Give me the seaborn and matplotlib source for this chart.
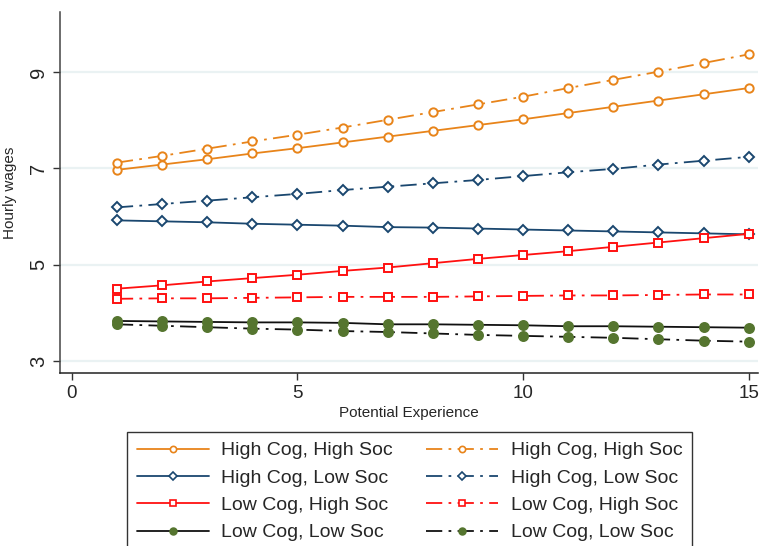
import numpy as np
import pandas as pd
import seaborn as sns
import matplotlib.pyplot as plt
from matplotlib.lines import Line2D

# Potential experience (years)
exper = list(range(1, 16))

# Hourly wages
hc_hs_solid = [6.97, 7.08, 7.19, 7.31, 7.42, 7.54, 7.66, 7.78, 7.90, 8.02, 8.15, 8.28, 8.41, 8.54, 8.67]
hc_ls_solid = [5.92, 5.90, 5.88, 5.85, 5.83, 5.81, 5.78, 5.77, 5.75, 5.73, 5.71, 5.69, 5.67, 5.65, 5.63]
lc_hs_solid = [4.50, 4.57, 4.65, 4.72, 4.79, 4.87, 4.94, 5.03, 5.12, 5.20, 5.28, 5.37, 5.46, 5.55, 5.64]
lc_ls_solid = [3.83, 3.82, 3.81, 3.80, 3.80, 3.79, 3.76, 3.76, 3.75, 3.74, 3.72, 3.72, 3.71, 3.70, 3.69]

hc_hs_dash = [7.12, 7.26, 7.41, 7.56, 7.70, 7.85, 8.01, 8.17, 8.33, 8.49, 8.67, 8.84, 9.01, 9.19, 9.37]
hc_ls_dash = [6.19, 6.26, 6.33, 6.40, 6.47, 6.55, 6.62, 6.69, 6.76, 6.84, 6.92, 6.99, 7.08, 7.16, 7.24]
lc_hs_dash = [4.29, 4.30, 4.30, 4.31, 4.32, 4.33, 4.33, 4.33, 4.34, 4.35, 4.36, 4.36, 4.37, 4.38, 4.38]
lc_ls_dash = [3.76, 3.73, 3.70, 3.67, 3.65, 3.62, 3.60, 3.57, 3.54, 3.52, 3.50, 3.48, 3.45, 3.42, 3.40]

group_labels = ["High Cog, High Soc", "High Cog, Low Soc", "Low Cog, High Soc", "Low Cog, Low Soc"]

# estilo de cada grupo: cor da linha, marcador, cor da face, cor da borda
styles = [
    ("#E8841A", "o", "white", "#E8841A"),
    ("#1A476F", "D", "white", "#1A476F"),
    ("#FF1010", "s", "white", "#FF1010"),
    ("#111111", "o", "#55752F", "#55752F"),
]
msizes = [6, 5.5, 6, 6.5]

sns.set_style("white")
plt.rcParams["font.family"] = ["Liberation Sans", "DejaVu Sans"]

fig = plt.figure(figsize=(7.6, 5.46), dpi=100)
ax = fig.add_axes([0.079, 0.317, 0.918, 0.661])

solid = [hc_hs_solid, hc_ls_solid, lc_hs_solid, lc_ls_solid]
dashed = [hc_hs_dash, hc_ls_dash, lc_hs_dash, lc_ls_dash]

# gridlines first so they stay behind
for yv in [3, 5, 7, 9]:
    ax.axhline(yv, color="#EAF2F3", lw=1.6, zorder=0)

handles = []
for vals_list, ls in [(solid, "-"), (dashed, (0, (9, 3.5, 1.5, 3.5)))]:
    for vals, (c, m, fc, ec), ms, lab in zip(vals_list, styles, msizes, group_labels):
        df = pd.DataFrame({"exper": exper, "wage": vals})
        sns.lineplot(data=df, x="exper", y="wage", ax=ax, color=c, lw=1.3,
                     linestyle=ls, marker=m, ms=ms, mfc=fc, mec=ec, mew=1.4)
        handles.append(Line2D([], [], color=c, lw=1.3, linestyle=ls, marker=m,
                              ms=ms * 0.75, mfc=fc, mec=ec, mew=1.2, label=lab))

ax.set_xlim(-0.26, 15.2)
ax.set_ylim(2.75, 10.25)
ax.set_xticks([0, 5, 10, 15])
ax.set_yticks([3, 5, 7, 9])
ax.tick_params(axis="x", labelsize=13.5, length=5, width=1, direction="out", bottom=True, color="#333333")
ax.tick_params(axis="y", labelsize=14.5, length=5, width=1, direction="out", left=True, color="#333333")
for lbl in ax.get_yticklabels():
    lbl.set_rotation(90)
    lbl.set_va("center")

for side in ["top", "right"]:
    ax.spines[side].set_visible(False)
ax.spines["left"].set_color("#444444")
ax.spines["bottom"].set_color("#222222")
ax.spines["left"].set_linewidth(1.1)
ax.spines["bottom"].set_linewidth(1.1)

ax.set_xlabel("Potential Experience", fontsize=11)
ax.set_ylabel("Hourly wages", fontsize=11)
ax.xaxis.set_label_coords(0.5, -0.092)
ax.yaxis.set_label_coords(-0.062, 0.5)

leg = fig.legend(handles=handles, ncol=2, loc="upper left",
                 bbox_to_anchor=(127 / 760, 1 - 432 / 546), borderaxespad=0,
                 fontsize=14, frameon=True, fancybox=False, edgecolor="black",
                 handlelength=3.7, handletextpad=0.65, columnspacing=1.7,
                 labelspacing=0.5, borderpad=0.5, numpoints=1)
leg.get_frame().set_linewidth(1.0)

fig.savefig("out.png", dpi=100)
